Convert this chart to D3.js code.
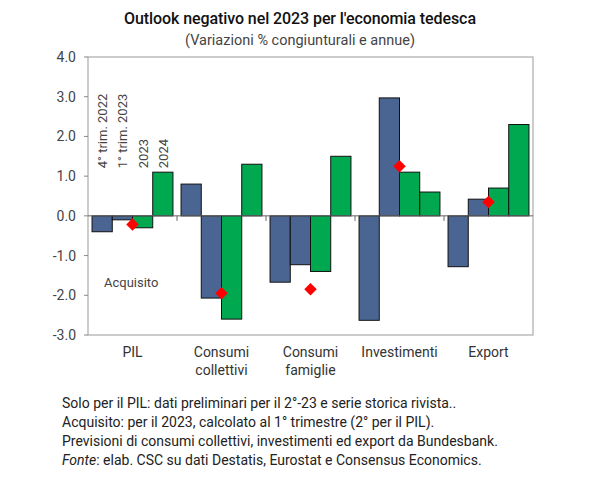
<!DOCTYPE html><html><head><meta charset="utf-8"><script src="https://d3js.org/d3.v7.min.js"></script>
<style>body{margin:0;background:#fff}text{font-family:Roboto,"Liberation Sans",sans-serif}</style></head><body><svg width="594" height="480"></svg>
<script>
const categories=[["PIL"],["Consumi","collettivi"],["Consumi","famiglie"],["Investimenti"],["Export"]];
const seriesNames=["4° trim. 2022","1° trim. 2023","2023","2024"];
const q4_2022=[-0.4,0.8,-1.67,-2.63,-1.28];
const q1_2023=[-0.1,-2.07,-1.23,2.97,0.42];
const y2023=[-0.3,-2.6,-1.4,1.1,0.7];
const y2024=[1.1,1.3,1.5,0.6,2.3];
const acquisito=[-0.22,-1.95,-1.85,1.25,0.35];
const yTicks=[4,3,2,1,0,-1,-2,-3];
const colors=["#4a6591","#4a6591","#00a84f","#00a84f"];
const svg=d3.select("svg");
const L=88,R=533,T=57,B=335;
const y=d3.scaleLinear().domain([-3,4]).range([B,T]);
const x=d3.scaleBand().domain(d3.range(5)).range([L,R]);
const xi=d3.scaleBand().domain(d3.range(4)).range([0,x.bandwidth()]).paddingInner(0).paddingOuter(0.2);
svg.append("text").attr("x",300).attr("y",24).attr("text-anchor","middle").attr("font-size",16).attr("font-weight",500).attr("fill","#111").attr("textLength",352).text("Outlook negativo nel 2023 per l'economia tedesca");
svg.append("text").attr("x",300).attr("y",45).attr("text-anchor","middle").attr("font-size",14.5).attr("fill","#444").text("(Variazioni % congiunturali e annue)");
svg.append("rect").attr("x",L).attr("y",T).attr("width",R-L).attr("height",B-T).attr("fill","none").attr("stroke","#999");
yTicks.forEach(t=>{svg.append("text").attr("x",L-12).attr("y",y(t)+5).attr("text-anchor","end").attr("font-size",14).attr("fill","#444").text(t.toFixed(1));
svg.append("line").attr("x1",L-4).attr("x2",L).attr("y1",y(t)).attr("y2",y(t)).attr("stroke","#888");});
const series=[q4_2022,q1_2023,y2023,y2024];
series.forEach((s,si)=>s.forEach((v,ci)=>{svg.append("rect").attr("x",x(ci)+xi(si)).attr("width",xi.bandwidth()).attr("y",y(Math.max(0,v))).attr("height",Math.abs(y(v)-y(0))).attr("fill",colors[si]).attr("stroke","#111").attr("stroke-width",1);}));
svg.append("line").attr("x1",L).attr("x2",R).attr("y1",y(0)).attr("y2",y(0)).attr("stroke","#666");
d3.range(1,5).forEach(i=>svg.append("line").attr("x1",x(i)).attr("x2",x(i)).attr("y1",y(0)).attr("y2",y(0)+5).attr("stroke","#666"));
acquisito.forEach((v,ci)=>svg.append("path").attr("d",d3.symbol(d3.symbolDiamond2,100)()).attr("transform",`translate(${x(ci)+x.bandwidth()/2},${y(v)})`).attr("fill","#f00"));
seriesNames.forEach((n,si)=>{const cx=x(0)+xi(si)+xi.bandwidth()/2+5;svg.append("text").attr("transform",`translate(${cx},${y(1.2)}) rotate(-90)`).attr("font-size",13).attr("fill","#444").text(n);});
svg.append("text").attr("x",104).attr("y",287).attr("font-size",13).attr("fill","#444").text("Acquisito");
categories.forEach((c,ci)=>c.forEach((l,li)=>svg.append("text").attr("x",x(ci)+x.bandwidth()/2).attr("y",357+li*18).attr("text-anchor","middle").attr("font-size",14).attr("fill","#333").text(l)));
const notes=["Solo per il PIL: dati preliminari per il 2°-23 e serie storica rivista..","Acquisito: per il 2023, calcolato al 1° trimestre (2° per il PIL).","Previsioni di consumi collettivi, investimenti ed export da Bundesbank."];
notes.forEach((n,i)=>svg.append("text").attr("x",62).attr("y",408+i*19).attr("font-size",14).attr("fill","#222").text(n));
const f=svg.append("text").attr("x",62).attr("y",465).attr("font-size",14).attr("fill","#222");
f.append("tspan").attr("font-style","italic").text("Fonte");f.append("tspan").text(": elab. CSC su dati Destatis, Eurostat e Consensus Economics.");
</script></body></html>
